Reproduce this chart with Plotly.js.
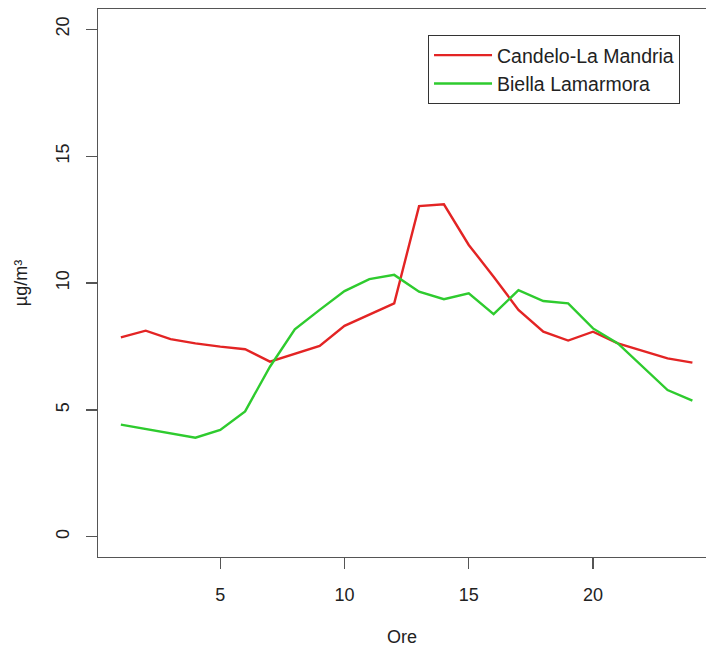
<!DOCTYPE html>
<html>
<head>
<meta charset="utf-8">
<script src="https://cdn.plot.ly/plotly-3.0.1.min.js"></script>
<style>
html,body{margin:0;padding:0;background:#fff;overflow:hidden;}
#chart{width:706px;height:654px;}
</style>
</head>
<body>
<div id="chart"></div>
<script>
const hours = [1,2,3,4,5,6,7,8,9,10,11,12,13,14,15,16,17,18,19,20,21,22,23,24];
const candelo = [7.86,8.12,7.79,7.62,7.49,7.39,6.90,7.20,7.52,8.31,8.74,9.20,13.03,13.10,11.50,10.25,8.94,8.08,7.73,8.08,7.62,7.33,7.03,6.86];
const biella = [4.42,4.24,4.07,3.90,4.21,4.94,6.70,8.17,8.94,9.68,10.15,10.32,9.66,9.36,9.59,8.77,9.72,9.29,9.20,8.21,7.62,6.70,5.78,5.36];
const seriesNames = ["Candelo-La Mandria","Biella Lamarmora"];
const xTicks = [5,10,15,20];
const yTicks = [0,5,10,15,20];

const font = {family:"Liberation Sans, Arial, sans-serif", size:18, color:"#222"};

const traces = [
  {x:hours, y:candelo, type:"scatter", mode:"lines", name:seriesNames[0],
   line:{color:"#e32424", width:2.4}},
  {x:hours, y:biella, type:"scatter", mode:"lines", name:seriesNames[1],
   line:{color:"#2ecb2e", width:2.4}}
];

const layout = {
  width:706, height:654,
  margin:{l:98, r:0, t:9, b:97},
  paper_bgcolor:"#fff", plot_bgcolor:"#fff",
  font:font,
  showlegend:true,
  legend:{x:0.5428, y:0.9526, xanchor:"left", yanchor:"top",
          bordercolor:"#333", borderwidth:1, bgcolor:"#fff",
          font:{family:font.family, size:19.5, color:"#222"},
          itemwidth:58, tracegroupgap:0},
  xaxis:{range:[0.08, 24.547], tickvals:xTicks, ticktext:xTicks.map(String),
         showgrid:false, zeroline:false, showline:true, mirror:true,
         linecolor:"#555", linewidth:1.3, ticks:"outside", ticklen:11,
         tickcolor:"#555", tickwidth:1.3, ticklabelstandoff:10,
         tickfont:{family:font.family, size:18, color:"#222"},
         title:{text:"Ore", font:{family:font.family, size:18, color:"#222"}, standoff:26},
         automargin:false},
  yaxis:{range:[-0.8, 20.8], tickvals:yTicks, ticktext:yTicks.map(String),
         showgrid:false, zeroline:false, showline:true, mirror:false,
         linecolor:"#555", linewidth:1.3, ticks:"outside", ticklen:11,
         tickcolor:"#555", tickwidth:1.3, tickangle:-90, ticklabelstandoff:10,
         tickfont:{family:font.family, size:18, color:"#222"},
         title:{text:"µg/m³", font:{family:font.family, size:18, color:"#222"}, standoff:20},
         automargin:false}
};

Plotly.newPlot("chart", traces, layout, {displayModeBar:false, staticPlot:true});
</script>
</body>
</html>
